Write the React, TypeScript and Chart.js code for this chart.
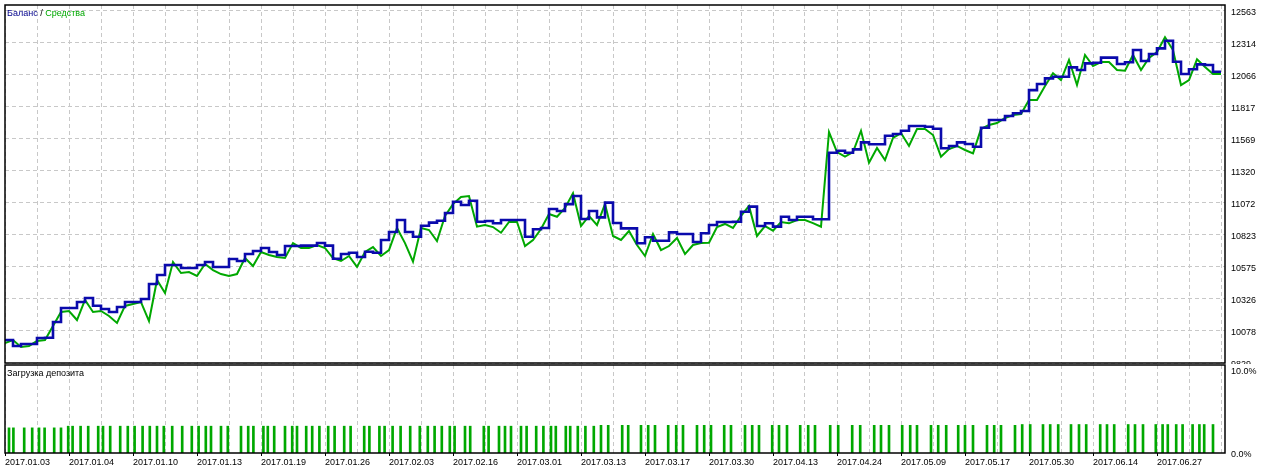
import React, { useEffect, useRef } from 'react';
import { Chart, registerables } from 'chart.js';

Chart.register(...registerables);

// ---- data ----
// balance / equity sampled every 2 deals (deal numbers 0, 2, 4, ...)
const balance = [
  10007, 9961, 9976, 9976, 10023, 10025, 10147, 10255, 10255, 10301,
  10332, 10273, 10247, 10224, 10263, 10301, 10301, 10325, 10441, 10511,
  10588, 10588, 10565, 10565, 10588, 10611, 10573, 10573, 10635, 10619,
  10673, 10696, 10720, 10689, 10666, 10735, 10735, 10738, 10738, 10758,
  10738, 10637, 10673, 10683, 10650, 10691, 10683, 10782, 10844, 10937,
  10844, 10807, 10892, 10916, 10931, 10991, 11078, 11053, 11086, 10923,
  10929, 10911, 10937, 10937, 10937, 10807, 10865, 10875, 11022, 11006,
  11060, 11122, 10944, 11006, 10957, 11071, 10913, 10872, 10872, 10756,
  10803, 10776, 10776, 10841, 10828, 10828, 10766, 10834, 10898, 10921,
  10921, 10923, 11001, 11040, 10890, 10911, 10885, 10962, 10937, 10962,
  10962, 10942, 10942, 11458, 11473, 11458, 11484, 11538, 11523, 11523,
  11589, 11603, 11628, 11665, 11665, 11659, 11644, 11492, 11510, 11538,
  11525, 11504, 11651, 11711, 11711, 11742, 11763, 11781, 11943, 11990,
  12034, 12046, 12046, 12119, 12098, 12150, 12155, 12194, 12194, 12145,
  12158, 12253, 12168, 12222, 12266, 12325, 12163, 12067, 12104, 12142,
  12137, 12085, 12085,
];

const equity = [
  9984, 10007, 9953, 9961, 9999, 10007, 10116, 10224, 10232, 10162,
  10317, 10224, 10232, 10193, 10139, 10271, 10286, 10301, 10154, 10472,
  10371, 10611, 10526, 10534, 10503, 10596, 10549, 10518, 10503, 10518,
  10642, 10580, 10689, 10666, 10650, 10642, 10758, 10720, 10720, 10743,
  10720, 10642, 10619, 10658, 10573, 10689, 10727, 10658, 10704, 10875,
  10758, 10614, 10875, 10859, 10774, 10968, 11060, 11115, 11122, 10885,
  10898, 10882, 10838, 10921, 10921, 10735, 10782, 10867, 10983, 10962,
  11030, 11143, 10890, 10968, 10898, 11060, 10813, 10782, 10851, 10743,
  10658, 10828, 10704, 10735, 10797, 10673, 10743, 10758, 10761, 10882,
  10906, 10875, 10968, 11045, 10813, 10890, 10854, 10921, 10911, 10937,
  10937, 10913, 10885, 11618, 11463, 11427, 11463, 11628, 11380, 11494,
  11401, 11572, 11610, 11510, 11641, 11641, 11595, 11427, 11486, 11510,
  11479, 11453, 11641, 11672, 11688, 11727, 11750, 11758, 11866, 11866,
  11974, 12073, 12021, 12176, 11982, 12215, 12129, 12160, 12160, 12098,
  12093, 12215, 12098, 12191, 12238, 12352, 12253, 11982, 12021, 12181,
  12122, 12067, 12067,
];

const yTickValues = [9829, 10078, 10326, 10575, 10823, 11072, 11320, 11569, 11817, 12066, 12314, 12563];

const dateLabels = [
  '2017.01.03', '2017.01.04', '2017.01.10', '2017.01.13', '2017.01.19', '2017.01.26',
  '2017.02.03', '2017.02.16', '2017.03.01', '2017.03.13', '2017.03.17', '2017.03.30',
  '2017.04.13', '2017.04.24', '2017.05.09', '2017.05.17', '2017.05.30', '2017.06.14',
  '2017.06.27',
];

// deposit load: deal number of each entry and load in %
const loadDeals = [
  1.0, 2.1, 4.8, 6.8, 8.5, 9.9, 12.3, 14.0, 15.8, 16.9,
  18.9, 20.8, 23.3, 24.5, 26.3, 28.8, 30.7, 32.4, 34.4, 36.2,
  38.0, 39.7, 41.8, 44.3, 46.7, 48.4, 50.2, 51.5, 54.0, 55.7,
  59.0, 60.8, 62.1, 64.6, 65.7, 67.3, 70.0, 71.8, 73.0, 75.3,
  76.8, 78.6, 80.8, 82.4, 84.8, 86.4, 89.8, 91.1, 93.6, 94.9,
  96.9, 98.9, 101.3, 103.7, 105.7, 107.4, 109.2, 111.2, 112.4, 115.0,
  116.3, 119.7, 120.9, 123.5, 125.0, 126.5, 129.0, 130.4, 132.8, 134.6,
  136.5, 137.7, 140.2, 141.3, 143.2, 145.1, 147.2,
  149.0, 150.8, 154.3, 155.8, 159.0, 160.8, 162.5, 165.8, 167.8, 169.5,
  173.0, 174.8, 176.5, 179.8, 181.5, 185.0, 186.8, 188.5, 191.8, 193.5,
  195.5, 198.8, 200.8, 202.5, 206.3, 208.3, 211.8, 213.8, 217.3, 219.0,
  221.0, 224.3, 226.3, 228.0, 231.5, 233.3, 235.3, 238.3, 240.0, 242.0,
  245.5, 247.3, 249.0, 252.5, 254.3, 256.3, 259.5, 261.3, 263.3, 266.5,
  268.5, 270.3, 273.8, 275.5, 277.3, 280.8, 282.5, 284.5, 287.7, 289.4,
  290.7, 292.8, 294.4, 296.9, 298.6, 299.8, 302.0,
];

const loadPct = [
  3.0, 3.0, 3.0, 3.0, 3.0, 3.0, 3.0, 3.0, 3.2, 3.2,
  3.2, 3.2, 3.2, 3.2, 3.2, 3.2, 3.2, 3.2, 3.2, 3.2,
  3.2, 3.2, 3.2, 3.2, 3.2, 3.2, 3.2, 3.2, 3.2, 3.2,
  3.2, 3.2, 3.2, 3.2, 3.2, 3.2, 3.2, 3.2, 3.2, 3.2,
  3.2, 3.2, 3.2, 3.2, 3.2, 3.2, 3.2, 3.2, 3.2, 3.2,
  3.2, 3.2, 3.2, 3.2, 3.2, 3.2, 3.2, 3.2, 3.2, 3.2,
  3.2, 3.2, 3.2, 3.2, 3.2, 3.2, 3.2, 3.2, 3.2, 3.2,
  3.2, 3.2, 3.2, 3.2, 3.2, 3.2, 3.2,
  3.3, 3.3, 3.3, 3.3, 3.3, 3.3, 3.3, 3.3, 3.3, 3.3,
  3.3, 3.3, 3.3, 3.3, 3.3, 3.3, 3.3, 3.3, 3.3, 3.3,
  3.3, 3.3, 3.3, 3.3, 3.3, 3.3, 3.3, 3.3, 3.3, 3.3,
  3.3, 3.3, 3.3, 3.3, 3.3, 3.3, 3.3, 3.3, 3.3, 3.3,
  3.3, 3.3, 3.3, 3.3, 3.4, 3.4, 3.4, 3.4, 3.4, 3.4,
  3.4, 3.4, 3.4, 3.4, 3.4, 3.4, 3.4, 3.4, 3.4, 3.4,
  3.4, 3.4, 3.4, 3.4, 3.4, 3.4, 3.4,
];

const loadTickValues = [0, 10];

// ---- style ----
const DEALS_PER_SAMPLE = 2;
const DEALS_PER_GRID = 8;
const DEALS_PER_LABEL = 16;
const DEAL_MAX = 305;
const BLUE = '#0a0aac';
const GREEN = '#00a800';
const GRID = '#c8c8c8';
const FONT = 'Liberation Sans';

const gridDeals: number[] = [];
for (let d = 0; d <= 304; d += DEALS_PER_GRID) gridDeals.push(d);

const noPad = (s: any) => {
  s.paddingTop = 0;
  s.paddingBottom = 0;
  s.paddingLeft = 0;
  s.paddingRight = 0;
};

const framePlugin = {
  id: 'frame',
  afterDraw(chart: any) {
    const { ctx, chartArea: a } = chart;
    ctx.save();
    ctx.strokeStyle = '#000';
    ctx.lineWidth = 1.5;
    ctx.strokeRect(a.left, a.top, a.right - a.left, a.bottom - a.top);
    ctx.restore();
  },
};

export default function App() {
  const topRef = useRef<HTMLCanvasElement>(null);
  const botRef = useRef<HTMLCanvasElement>(null);

  useEffect(() => {
    const top = new Chart(topRef.current as HTMLCanvasElement, {
      type: 'line',
      data: {
        datasets: [
          {
            label: 'Баланс',
            data: balance.map((v, i) => ({ x: i * DEALS_PER_SAMPLE, y: v })),
            borderColor: BLUE,
            borderWidth: 2.6,
            pointRadius: 0,
            stepped: true,
            fill: false,
          },
          {
            label: 'Средства',
            data: equity.map((v, i) => ({ x: i * DEALS_PER_SAMPLE, y: v })),
            borderColor: GREEN,
            borderWidth: 2,
            pointRadius: 0,
            tension: 0,
            fill: false,
          },
        ],
      },
      options: {
        animation: false,
        responsive: false,
        maintainAspectRatio: false,
        layout: { padding: { left: 5, top: 5, right: 0, bottom: 1 } },
        plugins: { legend: { display: false }, tooltip: { enabled: false } },
        scales: {
          x: {
            type: 'linear',
            min: 0,
            max: DEAL_MAX,
            offset: false,
            afterBuildTicks: (s: any) => { s.ticks = gridDeals.map((v) => ({ value: v })); },
            afterFit: (s: any) => { s.height = 0; noPad(s); },
            ticks: { display: false },
            border: { display: false, dash: [4, 3] },
            grid: { color: GRID, drawTicks: false, lineWidth: 1, offset: false },
          },
          y: {
            position: 'right',
            min: 9829,
            max: 12602,
            afterBuildTicks: (s: any) => { s.ticks = yTickValues.map((v) => ({ value: v })); },
            afterFit: (s: any) => { s.width = 45; noPad(s); },
            border: { display: false, dash: [4, 3] },
            grid: { color: GRID, drawTicks: false, lineWidth: 1 },
            ticks: {
              padding: 6,
              color: '#000',
              labelOffset: 2,
              font: { family: FONT, size: 9 },
              callback: (v: any) => String(v),
            },
          },
        },
      },
      plugins: [framePlugin],
    });

    const bot = new Chart(botRef.current as HTMLCanvasElement, {
      type: 'bar',
      data: {
        datasets: [
          {
            label: 'Загрузка депозита',
            data: loadDeals.map((d, i) => ({ x: d, y: loadPct[i] })),
            backgroundColor: GREEN,
            borderWidth: 0,
            barThickness: 2,
            grouped: false,
          },
        ],
      },
      options: {
        animation: false,
        responsive: false,
        maintainAspectRatio: false,
        layout: { padding: { left: 5, top: 1, right: 0, bottom: 0 } },
        plugins: { legend: { display: false }, tooltip: { enabled: false } },
        scales: {
          x: {
            type: 'linear',
            min: 0,
            max: DEAL_MAX,
            offset: false,
            afterBuildTicks: (s: any) => { s.ticks = gridDeals.map((v) => ({ value: v })); },
            afterFit: (s: any) => { s.height = 17; noPad(s); },
            border: { display: false, dash: [4, 3] },
            grid: {
              color: GRID,
              lineWidth: 1,
              offset: false,
              drawTicks: true,
              tickLength: 3,
              tickBorderDash: [],
              tickColor: (c: any) =>
                c.tick && c.tick.value % DEALS_PER_LABEL === 0 && c.tick.value / DEALS_PER_LABEL < dateLabels.length
                  ? '#000'
                  : 'rgba(0,0,0,0)',
            },
            ticks: {
              autoSkip: false,
              maxRotation: 0,
              minRotation: 0,
              align: 'start',
              padding: 1,
              color: '#000',
              font: { family: FONT, size: 9 },
              callback: (v: any) =>
                v % DEALS_PER_LABEL === 0 ? dateLabels[v / DEALS_PER_LABEL] ?? '' : '',
            },
          },
          y: {
            position: 'right',
            min: 0,
            max: 10.5,
            afterBuildTicks: (s: any) => { s.ticks = loadTickValues.map((v) => ({ value: v })); },
            afterFit: (s: any) => { s.width = 45; noPad(s); },
            border: { display: false },
            grid: { display: false, drawTicks: false },
            ticks: {
              padding: 6,
              color: '#000',
              labelOffset: 2,
              font: { family: FONT, size: 9 },
              callback: (v: any) => Number(v).toFixed(1) + '%',
            },
          },
        },
      },
      plugins: [framePlugin],
    });

    return () => {
      top.destroy();
      bot.destroy();
    };
  }, []);

  const textStyle: React.CSSProperties = {
    position: 'absolute',
    fontFamily: FONT,
    fontSize: 9,
    lineHeight: '11px',
    whiteSpace: 'nowrap',
  };

  return (
    <div style={{ position: 'absolute', left: 0, top: 0, width: 1270, height: 470, background: '#fff' }}>
      <canvas ref={topRef} width={1270} height={364} style={{ position: 'absolute', left: 0, top: 0, width: 1270, height: 364 }} />
      <canvas ref={botRef} width={1270} height={106} style={{ position: 'absolute', left: 0, top: 364, width: 1270, height: 106 }} />
      <div style={{ ...textStyle, left: 7, top: 8 }}>
        <span style={{ color: '#00008b' }}>Баланс</span>
        <span style={{ color: '#000' }}> / </span>
        <span style={{ color: GREEN }}>Средства</span>
      </div>
      <div style={{ ...textStyle, left: 7, top: 368, color: '#000' }}>Загрузка депозита</div>
    </div>
  );
}
